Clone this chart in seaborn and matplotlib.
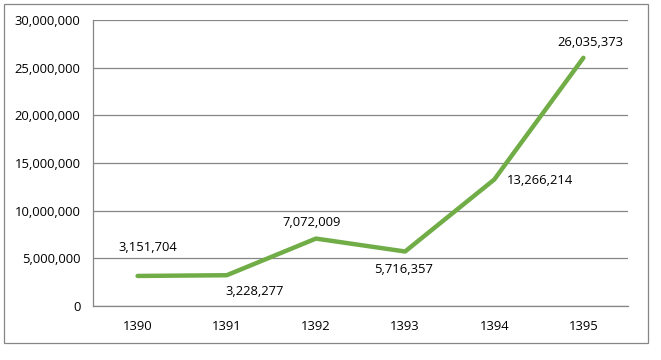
import matplotlib
matplotlib.use("Agg")
import matplotlib.pyplot as plt
import seaborn as sns
import pandas as pd
from matplotlib.ticker import FuncFormatter, FixedLocator
from matplotlib.patches import Rectangle

years = ["1390", "1391", "1392", "1393", "1394", "1395"]
values = [3151704, 3228277, 7072009, 5716357, 13266214, 26035373]

sns.set_theme(style="white")
plt.rcParams['font.family'] = ['Open Sans', 'DejaVu Sans']

df = pd.DataFrame({"idx": range(len(years)), "value": values})

fig = plt.figure(figsize=(6.61, 3.60), dpi=100)
ax = fig.add_axes([93/661, 1-306/360, (628-93)/661, (306-20)/360])

grid_c = "#868686"
fs = 9.4
sns.lineplot(data=df, x="idx", y="value", ax=ax, color="#70AD47", linewidth=3.2,
             solid_capstyle="round", solid_joinstyle="round", zorder=3)

ax.set_xlim(-0.5, len(years) - 0.5)
ax.set_ylim(0, 30000000)
ax.set_yticks(range(0, 30000001, 5000000))
ax.yaxis.set_major_formatter(FuncFormatter(lambda v, p: f"{int(v):,}"))
ax.yaxis.grid(True, color=grid_c, linewidth=0.9)
ax.set_axisbelow(True)

ax.set_xticks(range(len(years)))
ax.set_xticklabels(years)
ax.xaxis.set_minor_locator(FixedLocator([i - 0.5 for i in range(len(years) + 1)]))
ax.tick_params(axis="x", which="major", length=0, pad=10, labelsize=fs, colors="#000000")
ax.tick_params(axis="x", which="minor", length=5, width=0.9, color=grid_c, direction="out")
ax.tick_params(axis="y", which="major", length=5, width=0.9, color=grid_c, direction="out",
               labelsize=fs, pad=4, colors="#000000")
ax.set_xlabel("")
ax.set_ylabel("")

for s in ["top", "right"]:
    ax.spines[s].set_visible(False)
for s in ["left", "bottom"]:
    ax.spines[s].set_color(grid_c)
    ax.spines[s].set_linewidth(0.9)

# label placement (pixel offsets from the data point)
offsets = [(10, 28, "center"), (28, -16, "center"), (-4, 16, "center"),
           (-2, -18, "center"), (13, -1, "left"), (7, 15, "center")]
for i, v in enumerate(values):
    dx, dy, ha = offsets[i]
    ax.annotate(f"{v:,}", (i, v), xytext=(dx, dy), textcoords="offset pixels",
                ha=ha, va="center", fontsize=fs, color="#000000")

fig.patches.append(Rectangle((4/661, 1-343/360), (648-4)/661, (343-4)/360,
                             transform=fig.transFigure, fill=False,
                             edgecolor="#868686", linewidth=0.9))

fig.savefig("out.png", dpi=100)
